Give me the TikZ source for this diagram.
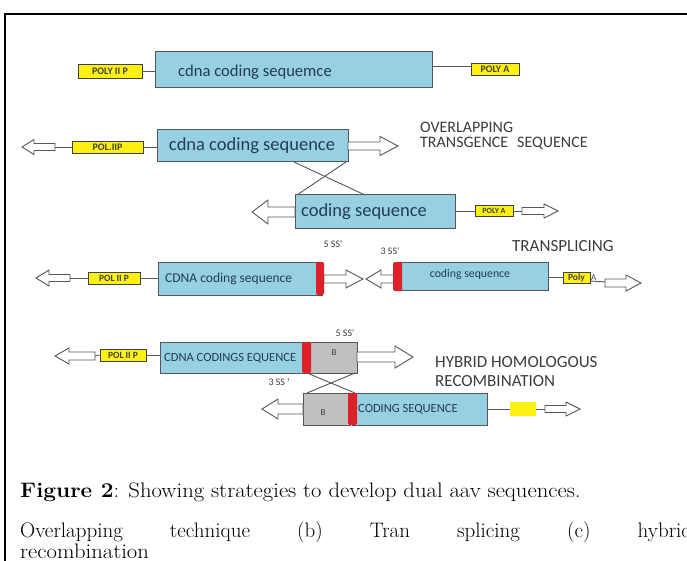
\documentclass[tikz,border=0pt]{standalone}
\usepackage{fontspec}
\newfontfamily\carl{Carlito}
\definecolor{seqblue}{RGB}{150,208,226}
\definecolor{edgegray}{RGB}{85,85,90}
\definecolor{polyyellow}{RGB}{255,240,20}
\definecolor{ssred}{RGB}{222,32,40}
\definecolor{bgray}{RGB}{192,192,192}
\definecolor{labelgray}{RGB}{60,60,60}
\definecolor{seqtext}{RGB}{35,60,85}
\tikzset{
  seqbox/.style={draw=edgegray, line width=1pt, fill=seqblue, inner sep=0pt},
  graybox/.style={draw=edgegray, line width=1pt, fill=bgray, inner sep=0pt},
  polybox/.style={draw=black!75, line width=0.9pt, fill=polyyellow, inner sep=0pt,
    font=\carl\bfseries\fontsize{10}{10}\selectfont, text=black!75},
  seqlabel/.style={inner sep=0pt, text=seqtext},
  biglabel/.style={inner sep=0pt, anchor=west, text=labelgray, font=\carl\fontsize{17}{17}\selectfont},
  sslabel/.style={inner sep=0pt, text=labelgray, font=\carl\fontsize{10}{10}\selectfont},
  wire/.style={draw=edgegray, line width=0.9pt},
  arrowline/.style={draw=edgegray, line width=0.9pt, fill=white, line join=miter},
  redband/.style={fill=ssred, rounded corners=1.5pt},
  captext/.style={anchor=base west, inner sep=0pt, font=\fontsize{21}{24}\selectfont},
}
% hollow arrow: tail x, tip x, y, shaft half width, head half width, head length
\newcommand\hollowarr[6]{%
  \pgfmathsetmacro\hbx{#2-((#2>#1)?1:-1)*#6}%
  \draw[arrowline] (#1,#3-#4) -- (\hbx,#3-#4) -- (\hbx,#3-#5) -- (#2,#3)
     -- (\hbx,#3+#5) -- (\hbx,#3+#4) -- (#1,#3+#4) -- cycle;}
\begin{document}
\begin{tikzpicture}[x=1pt,y=-1pt]
\clip (0,0) rectangle (687,561);
\useasboundingbox (0,0) rectangle (687,561);
% frame
\draw[line width=1.3pt, black] (5,570) -- (5,14) -- (700,14);

% ---------- row 1 ----------
\node[polybox, minimum width=64pt, minimum height=14pt] (p1) at (110,71) {POLY II P};
\node[seqbox, minimum width=277pt, minimum height=36pt] (b1) at (293.5,70) {};
\node[seqlabel, anchor=west, font=\carl\fontsize{16.6}{16.6}\selectfont] (t1) at (178,72) {cdna coding sequemce};
\node[polybox, minimum width=48pt, minimum height=12pt] (pa1) at (495,69) {POLY A};
\draw[wire] (p1.east) -- (p1.east -| b1.west);
\draw[wire] (b1.east |- 0,66) -- (pa1.west |- 0,66);

% ---------- row 2 : overlapping ----------
\hollowarr{55}{22}{147}{3.5}{7.5}{12}
\coordinate (a2l) at (55,147);
\node[polybox, minimum width=71pt, minimum height=12pt] (p2) at (107.5,147) {POL.IIP};
\node[seqbox, minimum width=191pt, minimum height=32pt] (b2) at (252.5,146) {};
\node[seqlabel, font=\carl\fontsize{18.5}{18.5}\selectfont] (t2) at (252,146) {cdna coding sequence};
\draw[wire] (a2l) -- (p2.west);
\draw[wire] (p2.east) -- (p2.east -| b2.west);
\hollowarr{348}{398}{146}{4}{9.5}{18}
\node[seqbox, minimum width=160pt, minimum height=33pt] (b3) at (375,211.5) {};
\node[seqlabel, font=\carl\fontsize{18.5}{18.5}\selectfont] (t3) at (364,212) {coding sequence};
\draw[wire] (294,162) -- (365,195);
\draw[wire] (346,162) -- (297,195);
\hollowarr{295}{252}{212}{5}{12}{16}
\node[polybox, minimum width=38pt, minimum height=11pt, font=\carl\bfseries\fontsize{8}{8}\selectfont] (pa2) at (494,211) {POLY A};
\draw[wire] (b3.east |- pa2.west) -- (pa2.west);
\coordinate (a2r) at (524,211);
\draw[wire] (pa2.east) -- (a2r);
\hollowarr{522}{558}{211}{3.5}{7}{14}
\node[biglabel, font=\carl\fontsize{16}{16}\selectfont] (ov1) at (420,127) {OVERLAPPING};
\node[biglabel, font=\carl\fontsize{16}{16}\selectfont] (ov2) at (420,143) {TRANSGENCE\hspace{9pt}SEQUENCE};

% ---------- row 3 : transplicing ----------
\hollowarr{70}{36}{278}{3.5}{8}{13}
\coordinate (a3l) at (70,278);
\node[polybox, minimum width=52pt, minimum height=12pt, font=\carl\bfseries\fontsize{9.5}{9.5}\selectfont] (p3) at (114,278) {POL II P};
\node[seqbox, minimum width=164pt, minimum height=33pt] (b4) at (240,278.5) {};
\node[seqlabel, anchor=west, font=\carl\fontsize{13.5}{13.5}\selectfont] (t4) at (165,279) {CDNA coding sequence};
\draw[wire] (a3l) -- (p3.west);
\draw[wire] (p3.east) -- (p3.east -| b4.west);
\fill[redband] (316,262) rectangle (324,295);
\hollowarr{324}{363}{279}{4}{9}{17}
\node[sslabel] (ss5a) at (333,244) {5 SS'};
\node[sslabel] (ss3a) at (390,251) {3 SS'};
\node[seqbox, minimum width=151pt, minimum height=28pt] (b5) at (472.5,276) {};
\hollowarr{396}{366}{279}{4}{9}{15}
\fill[redband] (393,262) rectangle (402,291);
\node[seqlabel, font=\carl\fontsize{11.8}{11.8}\selectfont] (t5) at (470,274) {coding sequence};
\node[polybox, minimum width=27pt, minimum height=11pt, font=\carl\bfseries\fontsize{9.5}{9.5}\selectfont] (pa3) at (576.5,277.5) {Poly};
\node[sslabel, anchor=west, font=\carl\fontsize{9}{9}\selectfont] (pa3a) at (591,278) {A};
\draw[wire] (b5.east |- pa3.west) -- (pa3.west);
\coordinate (a3r) at (606,282);
\draw[wire] (590,281) -- (a3r);
\hollowarr{605}{641}{283}{4}{8}{15}
\node[biglabel] (tr) at (512,246) {TRANSPLICING};

% ---------- row 4 : hybrid ----------
\hollowarr{95}{55}{356}{4}{8}{14}
\coordinate (a4l) at (95,356);
\node[polybox, minimum width=46pt, minimum height=12pt, font=\carl\bfseries\fontsize{9.5}{9.5}\selectfont] (p4) at (123,355) {POL II P};
\node[seqbox, minimum width=147pt, minimum height=31pt] (b6) at (233.5,357.5) {};
\begin{scope}
  \clip (160,342) rectangle (304,373);
  \node[seqlabel, anchor=west, font=\carl\fontsize{12.5}{12.5}\selectfont] (t6) at (164,358) {CDNA CODINGS EQUENCE};
\end{scope}
\node[graybox, minimum width=48pt, minimum height=31pt] (g1) at (333,357.5) {};
\node[inner sep=0pt, font=\carl\fontsize{9}{9}\selectfont, text=labelgray] (gb1) at (334,353) {B};
\fill[redband] (302,342) rectangle (311,373);
\draw[wire] (a4l) -- (p4.west);
\draw[wire] (p4.east) -- (p4.east -| b6.west);
\hollowarr{357}{413}{357}{5}{11}{18}
\node[sslabel] (ss5b) at (345,333) {5 SS'};
\draw[wire] (307,373) -- (355,393);
\draw[wire] (355,373) -- (307,393);
\node[sslabel] (ss3b) at (279,382) {3 SS '};
\node[graybox, minimum width=47pt, minimum height=32pt] (g2) at (326.5,409) {};
\node[inner sep=0pt, font=\carl\fontsize{9}{9}\selectfont, text=labelgray] (gb2) at (323,413) {B};
\node[seqbox, minimum width=135pt, minimum height=32pt] (b7) at (419.5,409) {};
\fill[redband] (348,393) rectangle (357,425);
\node[seqlabel, anchor=west, font=\carl\fontsize{12.5}{12.5}\selectfont] (t7) at (358,409) {CODING SEQUENCE};
\hollowarr{303}{262}{409}{5}{10}{16}
\node[fill=polyyellow, minimum width=26pt, minimum height=14pt, inner sep=0pt] (y4) at (523,409) {};
\draw[wire] (b7.east) -- (y4.west);
\coordinate (a4r) at (546,409);
\draw[wire] (y4.east) -- (a4r);
\hollowarr{545}{580}{409}{3.5}{7}{14}
\node[biglabel] (hy1) at (435,362) {HYBRID HOMOLOGOUS};
\node[biglabel] (hy2) at (435,381) {RECOMBINATION};

% ---------- caption ----------
\node[captext, xscale=1.08] (cap1) at (20,497)
  {\textbf{Figure 2}: Showing strategies to develop dual aav sequences.};
\node[captext] (cap2) at (20,537)
  {\hbox to 672pt{Overlapping\hfill technique\hfill (b)\hfill Tran\hfill splicing\hfill (c)\hfill hybrid}};
\node[captext, xscale=1.08] (cap3) at (20,558)
  {recombination};
\end{tikzpicture}
\end{document}
